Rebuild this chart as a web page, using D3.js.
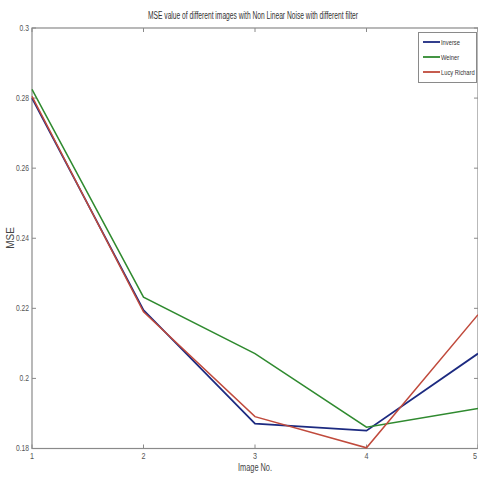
<!DOCTYPE html>
<html><head><meta charset="utf-8">
<script src="https://cdn.jsdelivr.net/npm/d3@7"></script>
<style>body{margin:0;background:#fff;} svg{display:block;font-family:"Liberation Sans",Arial,sans-serif;}</style>
</head><body>
<svg id="c" width="478" height="479"></svg>
<script>
const images = [1, 2, 3, 4, 5];
const inverse = [0.2800, 0.2195, 0.1871, 0.1851, 0.2071];
const wiener = [0.2825, 0.2232, 0.2071, 0.1861, 0.1914];
const lucy = [0.2805, 0.2190, 0.1891, 0.1802, 0.2182];
const seriesNames = ["Inverse", "Weiner", "Lucy Richard"];
const yTicks = [0.18, 0.2, 0.22, 0.24, 0.26, 0.28, 0.3];
const yTickLabels = ["0.18", "0.2", "0.22", "0.24", "0.26", "0.28", "0.3"];
const xTickLabels = ["1", "2", "3", "4", "5"];
const titleText = "MSE value of different images with Non Linear Noise with different filter";

const colors = ["#1c2a80", "#2f8a2f", "#c04a3c"];
const svg = d3.select("#c");
const L = 32, R = 478, T = 28, B = 448.5;
const x = d3.scaleLinear().domain([1, 5]).range([L, R]);
const y = d3.scaleLinear().domain([0.18, 0.3]).range([B, T]);
const axisCol = "#8a8a8a";

// box
svg.append("rect").attr("x", L).attr("y", T).attr("width", R - L).attr("height", B - T)
  .attr("fill", "none").attr("stroke", axisCol).attr("stroke-width", 1.2);

// y ticks (inward both sides)
const g = svg.append("g");
yTicks.forEach((v, i) => {
  g.append("line").attr("x1", L).attr("x2", L + 4).attr("y1", y(v)).attr("y2", y(v)).attr("stroke", axisCol);
  g.append("line").attr("x1", R - 4).attr("x2", R).attr("y1", y(v)).attr("y2", y(v)).attr("stroke", axisCol);
  g.append("text").attr("x", L - 3).attr("y", y(v) + 3).attr("text-anchor", "end")
    .attr("font-size", 9).attr("fill", "#555").attr("transform", `translate(${L - 3},0) scale(0.75,1) translate(${-(L - 3)},0)`)
    .text(yTickLabels[i]);
});
images.forEach((v, i) => {
  g.append("line").attr("x1", x(v)).attr("x2", x(v)).attr("y1", B).attr("y2", B - 4).attr("stroke", axisCol);
  g.append("line").attr("x1", x(v)).attr("x2", x(v)).attr("y1", T).attr("y2", T + 4).attr("stroke", axisCol);
  const tx = Math.min(x(v), R - 3);
  g.append("text").attr("x", tx).attr("y", B + 11).attr("text-anchor", "middle")
    .attr("font-size", 9).attr("fill", "#555")
    .attr("transform", `translate(${tx},0) scale(0.8,1) translate(${-tx},0)`)
    .text(xTickLabels[i]);
});

// lines
const line = d3.line().x((d, i) => x(images[i])).y(d => y(d));
[inverse, wiener, lucy].forEach((s, k) => {
  svg.append("path").datum(s).attr("d", line).attr("fill", "none")
    .attr("stroke", colors[k]).attr("stroke-width", k === 0 ? 1.8 : 1.5);
});

// title
svg.append("text").attr("x", 253).attr("y", 19).attr("text-anchor", "middle")
  .attr("font-size", 10).attr("fill", "#333").attr("textLength", 210).attr("lengthAdjust", "spacingAndGlyphs")
  .text(titleText);
// axis labels
svg.append("text").attr("x", 255).attr("y", 471).attr("text-anchor", "middle")
  .attr("font-size", 10).attr("fill", "#444").attr("textLength", 34).attr("lengthAdjust", "spacingAndGlyphs")
  .text("Image No.");
svg.append("text").attr("transform", "translate(14,238) rotate(-90)").attr("text-anchor", "middle")
  .attr("font-size", 10).attr("fill", "#444").text("MSE");

// legend
const lg = svg.append("g");
lg.append("rect").attr("x", 418.5).attr("y", 32.5).attr("width", 58).attr("height", 50)
  .attr("fill", "#fff").attr("stroke", axisCol).attr("stroke-width", 1);
const lys = [42, 57, 72];
seriesNames.forEach((n, k) => {
  lg.append("line").attr("x1", 423).attr("x2", 440).attr("y1", lys[k]).attr("y2", lys[k])
    .attr("stroke", colors[k]).attr("stroke-width", 1.8);
  lg.append("text").attr("x", 441).attr("y", lys[k] + 3).attr("font-size", 8).attr("fill", "#333")
    .attr("transform", `translate(441,0) scale(0.72,1) translate(-441,0)`).text(n);
});
</script>
</body></html>
